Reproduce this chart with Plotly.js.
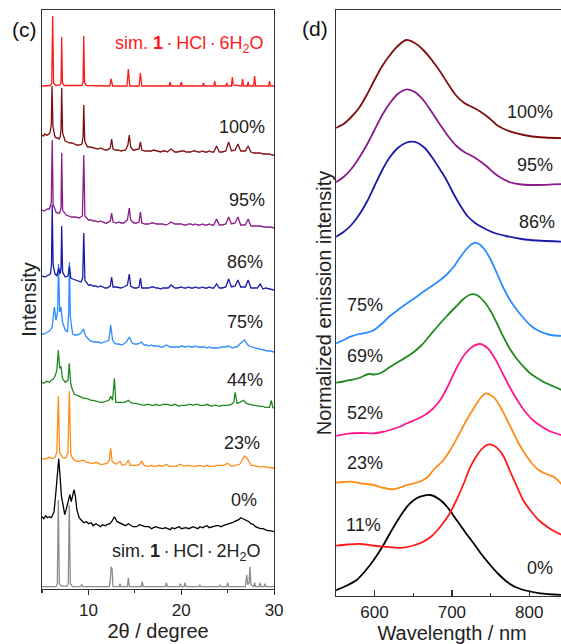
<!DOCTYPE html>
<html>
<head>
<meta charset="utf-8">
<script src="https://cdn.plot.ly/plotly-3.0.1.min.js"></script>
<style>
html,body{margin:0;padding:0;overflow:hidden;background:#fff;}
#chart{width:600px;height:644px;}
</style>
</head>
<body>
<div id="chart"></div>
<script>
// ---------- Panel (c): PXRD patterns, [2theta, intensity above own baseline] ----------
const xrdNames = ['sim. 1·HCl·2H2O', '0%', '23%', '44%', '75%', '86%', '95%', '100%', 'sim. 1·HCl·6H2O'];
const xrdColors = ['#8c8c8c', '#000000', '#ff8c1a', '#1f8a1f', '#2b8cff', '#1a1aa6', '#8b1a8b', '#7f0d0d', '#ff1a1a'];
const xrdOffsets = [2.3, 57.3, 120.7, 180.7, 237, 299, 361, 434, 503];

const xrdSim2 = [[5,0],[6.5,0],[6.65,3],[6.76,87],[6.87,3],[7.1,0.5],[7.7,0.5],[7.83,3],[7.94,82],[8.05,3],[8.3,0],[9.15,0],[9.27,2],[9.4,0],[12.25,0],[12.35,6],[12.45,20],[12.55,18],[12.65,0],[13.3,0],[13.4,3],[13.5,0],[14.2,0],[14.3,9],[14.4,0],[15.7,0],[15.8,5],[15.9,0],[18.3,0],[18.4,4],[18.5,0],[19.8,0],[19.9,3],[20.0,0],[20.3,0],[20.4,4],[20.5,0],[21.9,0],[22.0,2],[22.1,0],[24.1,0],[24.2,2],[24.3,0],[24.9,0],[25.0,4],[25.1,0],[26.9,0],[27.05,12],[27.15,2],[27.3,4],[27.4,20],[27.5,2],[27.8,0],[27.9,4],[28.0,0],[28.4,0],[28.5,4],[28.6,0],[28.9,0],[29.0,3],[29.1,0],[30,0]];
const xrd0 = [[5,15],[5.2,13],[5.4,16],[5.6,14],[5.8,15],[6.0,14],[6.15,17],[6.3,20],[6.5,40],[6.65,55],[6.8,73],[6.95,55],[7.1,35],[7.3,25],[7.45,17],[7.6,22],[7.8,30],[8.0,37],[8.15,30],[8.3,38],[8.45,42],[8.6,35],[8.75,22],[9.0,14],[9.3,11],[9.5,9],[9.8,10],[10,8],[10.3,9],[10.5,6],[10.8,8],[11,7],[11.3,5],[11.5,7],[11.8,6],[12,7],[12.3,8],[12.5,10],[12.8,15],[13.1,10],[13.3,9],[13.5,8],[13.8,7],[14,6],[14.3,8],[14.5,7],[14.8,5],[15.2,5],[15.5,7],[15.8,6],[16.1,5],[16.5,5],[16.8,3],[17,4],[17.3,5],[17.5,4],[17.8,3],[18,3],[18.3,4],[18.5,3],[18.8,2],[19,4],[19.3,3],[19.5,4],[19.8,5],[20,3],[20.3,4],[20.5,4],[20.8,3],[21,4],[21.3,5],[21.5,4],[21.8,3],[22,5],[22.3,4],[22.5,5],[22.8,6],[23,4],[23.3,5],[23.5,5],[23.8,6],[24,6],[24.3,5],[24.5,6],[24.9,7],[25.2,8],[25.5,9],[25.7,10],[26.0,11],[26.2,12],[26.4,14],[26.6,13],[26.8,12],[27.0,11],[27.3,10],[27.5,8],[27.8,7],[28.0,5],[28.3,4],[28.5,3],[28.8,3],[29,2],[29.3,1],[29.5,1],[29.8,0],[30,0]];
const xrd23 = [[5,10],[5.3,9],[5.5,10],[5.8,11],[6.0,10],[6.2,10],[6.4,11],[6.6,16],[6.76,72],[6.9,16],[7.2,11],[7.4,10],[7.6,11],[7.8,16],[7.94,77],[8.1,14],[8.3,10],[8.5,8],[8.8,7],[9.0,7],[9.3,8],[9.5,8],[9.8,6],[10.0,6],[10.3,5],[10.5,5],[10.8,6],[11,5],[11.3,4],[11.5,4],[11.8,5],[12.0,5],[12.25,8],[12.4,20],[12.55,7],[12.8,5],[13.0,4],[13.4,7],[13.6,3],[14.0,4],[14.3,8],[14.5,3],[14.8,3],[15.2,3],[15.5,4],[15.7,7],[16.0,3],[16.3,2],[16.5,2],[16.8,3],[17,2],[17.3,2],[17.6,3],[18.0,2],[18.4,4],[18.7,2],[19.0,2],[19.5,2],[19.9,4],[20.3,2],[20.6,3],[21,2],[21.3,2],[21.5,2],[21.8,3],[22,3],[22.3,2],[22.5,2],[22.8,3],[23,2],[23.3,2],[23.5,2],[23.8,3],[24.2,3],[24.6,3],[25.0,5],[25.4,2],[25.8,3],[26.3,4],[26.6,9],[26.8,12],[27.1,10],[27.3,6],[27.5,3],[27.8,3],[28,2],[28.3,2],[28.5,1],[28.8,2],[29.3,1],[29.6,1],[30,0]];
const xrd44 = [[5,26],[5.2,25],[5.5,27],[5.8,26],[6.0,28],[6.2,29],[6.4,32],[6.6,38],[6.76,58],[6.9,40],[7.05,42],[7.2,30],[7.5,26],[7.8,28],[7.94,45],[8.1,24],[8.3,18],[8.5,14],[8.8,13],[9.0,12],[9.3,11],[9.5,10],[9.8,10],[10.0,9],[10.3,8],[10.5,8],[10.8,7],[11,7],[11.3,6],[11.5,6],[11.8,7],[12.0,7],[12.2,8],[12.4,12],[12.6,8],[12.8,30],[12.95,6],[13.2,6],[13.5,6],[13.8,6],[14.1,7],[14.3,8],[14.5,6],[14.8,5],[15.1,5],[15.5,4],[15.8,4],[16,3],[16.3,4],[16.5,4],[16.8,3],[17,3],[17.3,4],[17.5,3],[17.8,3],[18,4],[18.3,4],[18.5,4],[18.8,3],[19,3],[19.3,4],[19.5,3],[19.8,2],[20,3],[20.3,3],[20.5,3],[20.8,4],[21,4],[21.3,3],[21.5,4],[21.8,4],[22,3],[22.3,3],[22.5,3],[22.8,4],[23,3],[23.3,2],[23.5,3],[23.8,3],[24,2],[24.3,3],[24.5,3],[24.8,3],[25,3],[25.4,4],[25.65,6],[25.8,16],[26.0,5],[26.3,6],[26.5,7],[26.7,8],[27.0,5],[27.3,4],[27.5,4],[27.8,3],[28,3],[28.3,2],[28.5,2],[28.8,2],[29,1],[29.3,1],[29.5,1],[29.7,8],[29.85,1],[30,0]];
const xrd75 = [[5,18],[5.2,18],[5.4,19],[5.6,20],[5.8,21],[6.0,23],[6.1,25],[6.33,45],[6.5,32],[6.68,40],[6.78,88],[6.9,40],[7.05,45],[7.2,30],[7.5,22],[7.75,20],[7.88,40],[7.95,90],[8.05,35],[8.3,18],[8.5,17],[8.8,17],[9.0,18],[9.2,19],[9.45,23],[9.7,16],[10.0,13],[10.2,11],[10.6,10],[11,10],[11.4,9],[11.8,10],[12.0,11],[12.2,12],[12.4,27],[12.6,12],[12.8,9],[13.0,8],[13.3,8],[13.5,7],[13.8,8],[14.1,10],[14.4,15],[14.7,9],[15.0,8],[15.3,8],[15.5,9],[15.7,10],[16.0,7],[16.3,7],[16.5,6],[16.8,7],[17,6],[17.3,6],[17.5,6],[17.8,5],[18,5],[18.4,7],[18.8,5],[19.1,5],[19.5,5],[19.8,5],[20,6],[20.3,5],[20.5,5],[20.8,6],[21,5],[21.3,5],[21.5,6],[21.8,5],[22,5],[22.3,5],[22.5,5],[22.8,4],[23,5],[23.3,4],[23.5,4],[23.8,4],[24,4],[24.3,5],[24.7,5],[25.1,6],[25.5,4],[25.8,5],[26.0,5],[26.3,8],[26.5,10],[26.8,12],[27.1,8],[27.3,6],[27.6,5],[28,4],[28.3,3],[28.5,3],[28.8,2],[29,2],[29.3,1],[29.6,1],[30,0]];
const xrd86 = [[5,14],[5.3,13],[5.5,14],[5.7,15],[5.9,16],[6.02,25],[6.1,85],[6.2,25],[6.4,16],[6.6,14],[6.8,22],[6.95,16],[7.05,22],[7.12,64],[7.22,18],[7.5,13],[7.8,14],[7.95,24],[8.1,12],[8.3,11],[8.6,10],[8.9,9],[9.2,8],[9.38,12],[9.5,57],[9.62,10],[10,5],[10.3,5],[10.5,4],[10.8,4],[11,3],[11.3,4],[11.5,3],[11.8,2],[12,2],[12.35,4],[12.5,13],[12.65,3],[13,3],[13.3,2],[13.5,2],[13.8,3],[14.2,5],[14.4,16],[14.55,4],[14.9,2],[15.2,2],[15.45,3],[15.6,12],[15.75,2],[16.1,2],[16.5,2],[16.8,3],[17,3],[17.3,2],[17.5,2],[17.8,1],[18,2],[18.3,2],[18.6,2],[18.9,5],[19.3,2],[19.6,2],[20,3],[20.3,2],[20.5,2],[20.8,3],[21,2],[21.3,2],[21.5,3],[21.8,2],[22,2],[22.3,3],[22.5,2],[22.8,2],[23,3],[23.3,2],[23.5,2],[23.8,6],[24.1,2],[24.4,2],[24.8,3],[25.1,11],[25.4,3],[25.8,4],[26.1,10],[26.4,3],[26.7,3],[26.9,3],[27.2,10],[27.5,2],[27.8,2],[28.2,2],[28.5,6],[28.8,1],[29.1,2],[29.5,1],[29.8,1],[30,0]];
const xrd95 = [[5,18],[5.2,17],[5.4,18],[5.6,19],[5.8,19],[6.0,25],[6.1,88],[6.2,24],[6.5,16],[6.7,15],[6.9,15],[7.05,20],[7.12,75],[7.22,18],[7.6,13],[7.9,12],[8.2,11],[8.6,11],[9.0,10],[9.35,12],[9.5,73],[9.62,12],[10,8],[10.3,8],[10.5,7],[10.8,7],[11,6],[11.3,7],[11.5,6],[11.8,5],[12,5],[12.35,7],[12.5,15],[12.65,6],[13,5],[13.3,6],[13.5,5],[13.8,5],[14.2,8],[14.4,20],[14.55,8],[14.9,5],[15.2,5],[15.45,6],[15.6,16],[15.75,5],[16.1,4],[16.5,4],[16.8,5],[17,5],[17.3,4],[17.5,4],[17.8,4],[18,4],[18.3,3],[18.6,4],[18.9,6],[19.3,4],[19.6,4],[20,4],[20.3,3],[20.5,3],[20.8,4],[21,4],[21.3,3],[21.5,4],[21.8,3],[22,3],[22.3,4],[22.5,3],[22.8,3],[23,4],[23.3,3],[23.5,3],[23.8,9],[24.1,3],[24.4,3],[24.8,4],[25.1,11],[25.4,4],[25.8,5],[26.1,11],[26.4,3],[26.7,3],[26.9,3],[27.2,9],[27.5,2],[27.8,2],[28,2],[28.3,2],[28.5,2],[28.9,1],[29.3,1],[29.6,1],[30,0]];
const xrd100 = [[5,20],[5.15,19],[5.3,21],[5.45,20],[5.6,20],[5.75,21],[5.85,22],[6.0,30],[6.08,69],[6.18,28],[6.4,18],[6.55,17],[6.7,17],[6.85,16],[6.95,18],[7.05,25],[7.12,67],[7.22,22],[7.5,14],[7.75,13],[8.0,12],[8.25,12],[8.5,11],[8.75,10],[9.0,10],[9.3,11],[9.42,18],[9.5,50],[9.6,14],[9.9,8],[10.2,8],[10.5,7],[10.8,6],[11,6],[11.3,7],[11.5,6],[11.8,5],[12.0,5],[12.35,7],[12.5,16],[12.65,6],[12.9,5],[13.2,5],[13.5,4],[13.8,5],[14.0,5],[14.25,10],[14.4,20],[14.55,8],[14.8,5],[15.0,5],[15.45,6],[15.6,13],[15.75,5],[16.1,4],[16.5,4],[16.8,4],[17,5],[17.3,4],[17.5,4],[17.8,3],[18,4],[18.3,4],[18.5,3],[18.9,6],[19.3,3],[19.6,3],[20,4],[20.3,4],[20.5,3],[20.8,3],[21,3],[21.3,4],[21.5,4],[21.8,3],[22,3],[22.3,4],[22.5,3],[22.8,3],[23,4],[23.3,3],[23.5,3],[23.8,9],[24.1,3],[24.4,3],[24.8,4],[25.1,13],[25.4,4],[25.8,5],[26.1,11],[26.4,4],[26.7,4],[26.9,4],[27.2,9],[27.5,3],[27.8,2],[28.2,2],[28.5,2],[28.8,1],[29,1],[29.3,1],[29.5,1],[29.8,0],[30,0]];
const xrdSim6 = [[5,0],[5.9,0.5],[6.05,3],[6.15,70],[6.25,3],[6.5,0.5],[6.95,1],[7.05,4],[7.12,49],[7.2,3],[7.4,0.5],[9.3,0.5],[9.42,4],[9.5,50],[9.58,3],[9.8,0.5],[12.3,0],[12.45,7],[12.6,0],[14.15,0],[14.3,17],[14.45,0],[15.45,0],[15.6,13],[15.75,0],[18.7,0],[18.8,4],[18.9,0],[19.9,0],[20.0,4],[20.1,0],[22.3,0],[22.4,3],[22.5,0],[23.5,0],[23.6,5],[23.7,0],[24.8,0],[24.9,3],[25.0,0],[25.4,0],[25.5,9],[25.6,1],[26.5,0],[26.6,7],[26.7,0],[27.1,0],[27.2,4],[27.3,0],[27.8,0],[27.9,10],[28.0,0],[29.4,0],[29.5,5],[29.6,0],[30,0]];
const xrdData = [xrdSim2, xrd0, xrd23, xrd44, xrd75, xrd86, xrd95, xrd100, xrdSim6];
const xrdLabels = ['sim. <b>1</b>\u2009·\u2009HCl\u2009·\u20092H<sub>2</sub>O', '0%', '23%', '44%', '75%', '86%', '95%', '100%', 'sim. <b>1</b>\u2009·\u2009HCl\u2009·\u20096H<sub>2</sub>O'];

// ---------- Panel (d): emission spectra, [wavelength nm, stacked normalized intensity] ----------
const emNames = ['0%', '11%', '23%', '52%', '69%', '75%', '86%', '95%', '100%'];
const emColors = ['#000000', '#ff1a1a', '#ff8c1a', '#ff1a8c', '#1f8a1f', '#2b8cff', '#1a1aa6', '#8b1a8b', '#7f0d0d'];
const em0 = [[549,5.3],[563,10],[577,16],[588,25],[599,36],[610,49],[620,62.7],[631,77],[642,89.3],[651,96],[659,99.3],[672,101],[685,96],[695,88],[706,76],[717,64],[728,52.7],[739,41],[749.5,31],[760,22],[771,14.3],[782,9],[792.5,6],[814,2.7],[845,1]];
const em11 = [[549,50.3],[565,51.5],[581.5,52],[597,50.5],[611.6,49.3],[625,48.5],[637.5,48.3],[650,50.5],[663,54.3],[674,60],[685,69.3],[696,81],[706,96],[715,112],[724,129.3],[731,139],[738,146.5],[744,150.5],[749,151.7],[755,150],[761,146],[767,139.3],[775,125],[784,109.3],[792,96],[801,86],[812,76],[823,69.3],[834,64],[845,60]];
const em23 = [[549,113.3],[560,114],[569,114.3],[584,112.5],[599,111],[612,108],[624.5,106.7],[633,108.5],[642,111],[653,113],[663,116],[670,120],[676,126],[688,135],[698,146],[708,160],[719,176],[730,190],[738,199],[744,202.7],[750,201],[756,197],[762,190],[770,178],[779,164],[786,153],[793,144],[802,134],[812,126],[822,122],[832,119],[845,109]];
const em52 = [[549,160],[569,162.7],[585,163],[599,162.7],[610,164],[620,166],[632,169],[642,172.7],[655,177],[665,181],[675,187],[685,196],[695,210],[706,228],[716,241],[726,249],[736,252],[746,248],[756,237],[766,222],[776,207],[786,194],[796,183],[806,175],[815,170],[826,165],[845,160]];
const em69 = [[549,213.3],[560,214.5],[569,216],[580,218],[592,222],[600,221.5],[608,223],[620,229],[635,236],[650,243.5],[661,251],[672,261],[683,271],[693.5,280],[706,290],[715,297],[724,301.5],[732,301],[741,295],[750,285],[758,273],[766,260],[775,247],[784,237],[792.5,229.3],[801,222.7],[810,218],[818,214.3],[830,210],[845,205]];
const em75 = [[549,252],[560,256],[569,259.3],[580,262],[590,263.3],[597,265],[603,268],[612,274],[620,280],[631,286.5],[642,292.7],[653,298.5],[663,304.3],[674,310],[685,316],[694,322],[702,329],[710,338],[719,347],[725,351.5],[730,353.3],[736,351.5],[741,347.7],[749,338],[758,323],[766,309],[775,296],[784,286],[792.5,278],[801,271],[810,266],[827,261],[845,260]];
const em86 = [[549,358.7],[560,364],[570,371],[580,381],[590,394],[600,410],[610,426],[620,439],[630,448],[640,453],[648,454.3],[656,453],[665,448],[675,438],[685,426],[693,416],[703,401],[712,389],[720,380],[730,373],[741,368],[755,363],[770,360],[790,357],[810,355.5],[845,354.3]];
const em95 = [[549,413.3],[560,419],[570,427],[580,438],[590,451],[600,466],[610,481],[620,493],[630,502],[642,506.7],[652,504],[663,496],[674,484],[685,471],[696,459],[706,450],[716,444],[726,440],[736,435],[746,429],[756,422],[766,417],[776,413.5],[790,411.5],[810,411],[845,412]];
const em100 = [[549,467.7],[560,472],[570,479],[580,488],[590,501],[600,516],[610,530],[620,541],[630,550],[641,556],[652,553],[663,546],[674,536],[685,524.3],[696,511],[706,500],[716,493],[726,489],[737,484.3],[748,478],[758,471],[770,466],[784,462.7],[800,460],[820,458.5],[845,457.7]];
const emData = [em0, em11, em23, em52, em69, em75, em86, em95, em100];

// ---------- build traces ----------
const traces = [];
xrdData.forEach((pts, i) => {
  traces.push({
    type: 'scatter', mode: 'lines', name: xrdNames[i], showlegend: false,
    x: pts.map(p => p[0]), y: pts.map(p => p[1] + xrdOffsets[i]),
    xaxis: 'x', yaxis: 'y',
    line: {color: xrdColors[i], width: 1.3}
  });
});
emData.forEach((pts, i) => {
  traces.push({
    type: 'scatter', mode: 'lines', name: emNames[i], showlegend: false,
    x: pts.map(p => p[0]), y: pts.map(p => p[1]),
    xaxis: 'x2', yaxis: 'y2',
    line: {color: emColors[i], width: 1.8, shape: 'spline', smoothing: 0.8}
  });
});

// ---------- annotation placement (layout only) ----------
const FONT = 'Liberation Sans, Arial, sans-serif';
const xrdLabelPos = [[28.65, 37], [28.36, 89], [28.65, 146], [29.0, 209], [29.0, 267], [29.0, 327], [29.22, 389], [29.22, 462], [29.05, 545]];
const annotations = [];
xrdLabels.forEach((t, i) => {
  annotations.push({
    xref: 'x', yref: 'y', x: xrdLabelPos[i][0], y: xrdLabelPos[i][1],
    text: t, showarrow: false, xanchor: 'right', yanchor: 'middle',
    font: {family: FONT, size: 18, color: i === xrdLabels.length - 1 ? '#ff1a1a' : '#222'}
  });
});
const emLabelPos = [[833.6, 28, 'right'], [560, 71, 'left'], [562, 133, 'left'], [562, 183, 'left'], [562, 240, 'left'], [562, 291, 'left'], [835.8, 374, 'right'], [833.6, 431, 'right'], [833.6, 484, 'right']];
emNames.forEach((t, i) => {
  annotations.push({
    xref: 'x2', yref: 'y2', x: emLabelPos[i][0], y: emLabelPos[i][1],
    text: t, showarrow: false, xanchor: emLabelPos[i][2], yanchor: 'middle',
    font: {family: FONT, size: 18, color: '#222'}
  });
});
annotations.push({xref: 'paper', yref: 'paper', x: -0.034, y: 0.966, text: '(c)', showarrow: false,
  xanchor: 'center', yanchor: 'middle', font: {family: FONT, size: 21, color: '#111'}});
annotations.push({xref: 'paper', yref: 'paper', x: 0.548, y: 0.969, text: '(d)', showarrow: false,
  xanchor: 'right', yanchor: 'middle', font: {family: FONT, size: 21, color: '#111'}});

const axLine = {showline: true, linecolor: '#333', linewidth: 1.3, mirror: true, showgrid: false, zeroline: false};
const layout = {
  width: 600, height: 644,
  margin: {l: 42, r: 32.3, t: 10, b: 48},
  paper_bgcolor: '#fff', plot_bgcolor: '#fff',
  font: {family: FONT, color: '#222'},
  showlegend: false,
  xaxis: Object.assign({}, axLine, {
    domain: [0, 0.4413], range: [5, 30], tick0: 0, dtick: 10,
    ticks: 'outside', ticklen: 5, tickwidth: 1.2, tickcolor: '#333',
    minor: {dtick: 5, ticks: 'outside', ticklen: 3, tickcolor: '#333', tickwidth: 1.2},
    tickfont: {family: FONT, size: 17, color: '#222'},
    title: {text: '2θ / degree', font: {family: FONT, size: 20, color: '#222'}, standoff: 4}
  }),
  yaxis: Object.assign({}, axLine, {
    domain: [0.01195, 1], range: [0, 579], showticklabels: false, ticks: '',
    title: {text: 'Intensity', font: {family: FONT, size: 20, color: '#222'}, standoff: 5}
  }),
  xaxis2: Object.assign({}, axLine, {
    anchor: 'y2', domain: [0.5593, 1], range: [550.5, 850], tick0: 0, dtick: 100,
    ticks: 'inside', ticklen: 6, tickwidth: 1.2, tickcolor: '#333',
    minor: {dtick: 50, ticks: 'inside', ticklen: 3, tickcolor: '#333', tickwidth: 1.2},
    tickfont: {family: FONT, size: 17, color: '#222'},
    title: {text: 'Wavelength / nm', font: {family: FONT, size: 20, color: '#222'}, standoff: 4}
  }),
  yaxis2: Object.assign({}, axLine, {
    anchor: 'x2', domain: [0, 1], range: [0, 586], showticklabels: false, ticks: '',
    title: {text: 'Normalized emission intensity', font: {family: FONT, size: 20, color: '#222'}, standoff: 2}
  }),
  annotations: annotations
};

Plotly.newPlot('chart', traces, layout, {staticPlot: true, displayModeBar: false}).then(() => {
  // nudge the rotated y-axis titles closer to their axis lines, as in the reference
  const shifts = {'ytitle': 7, 'y2title': 4};
  Object.keys(shifts).forEach(cls => {
    const el = document.querySelector('.g-' + cls + ' text');
    if (el) {
      const x = parseFloat(el.getAttribute('x'));
      const y = parseFloat(el.getAttribute('y'));
      el.setAttribute('x', x + shifts[cls]);
      el.setAttribute('transform', 'rotate(-90,' + (x + shifts[cls]) + ',' + y + ')');
    }
  });
});
</script>
</body>
</html>
